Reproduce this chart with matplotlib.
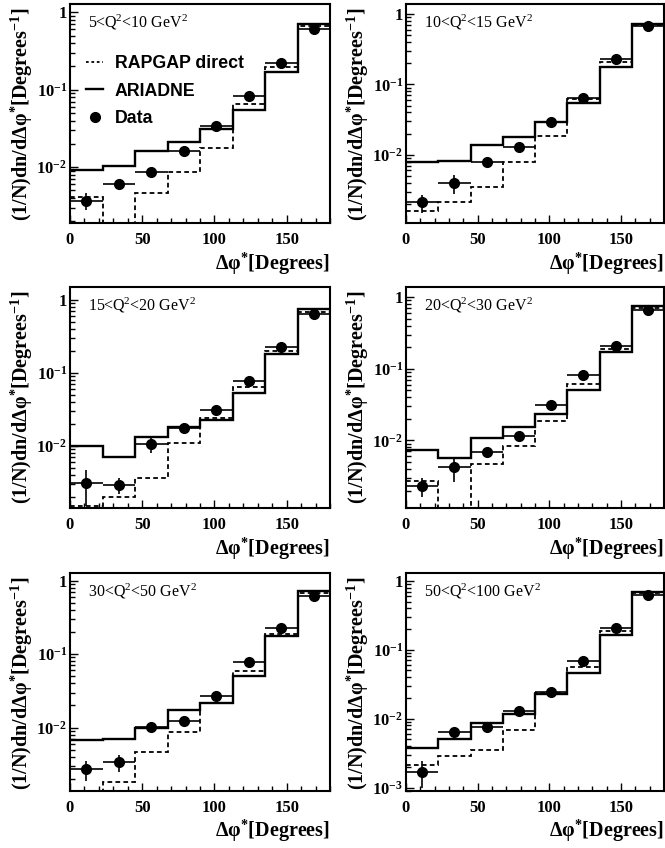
import numpy as np
import matplotlib
matplotlib.use("Agg")
import matplotlib.pyplot as plt
from matplotlib.ticker import FixedLocator, FuncFormatter, LogLocator, NullFormatter, MultipleLocator
from matplotlib.lines import Line2D

plt.rcParams["mathtext.fontset"] = "custom"
plt.rcParams["mathtext.rm"] = "Liberation Serif:bold"
plt.rcParams["mathtext.bf"] = "Liberation Serif:bold"
plt.rcParams["mathtext.it"] = "Liberation Serif:bold:italic"
plt.rcParams["font.family"] = ["Liberation Serif", "DejaVu Serif"]

# Delta phi* binning (degrees)
bin_edges = [0, 22.5, 45, 67.5, 90, 112.5, 135, 157.5, 180]

q2_labels = [r"5<Q$\mathregular{^2}$<10 GeV$\mathregular{^2}$",
             r"10<Q$\mathregular{^2}$<15 GeV$\mathregular{^2}$",
             r"15<Q$\mathregular{^2}$<20 GeV$\mathregular{^2}$",
             r"20<Q$\mathregular{^2}$<30 GeV$\mathregular{^2}$",
             r"30<Q$\mathregular{^2}$<50 GeV$\mathregular{^2}$",
             r"50<Q$\mathregular{^2}$<100 GeV$\mathregular{^2}$"]

# ARIADNE predictions
ariadne_q2_5_10 = [0.0092, 0.0103, 0.0162, 0.0211, 0.0314, 0.0542, 0.170, 0.70]
ariadne_q2_10_15 = [0.0079, 0.0081, 0.0136, 0.0179, 0.0295, 0.0545, 0.176, 0.72]
ariadne_q2_15_20 = [0.0100, 0.0071, 0.0133, 0.0182, 0.0225, 0.0535, 0.181, 0.74]
ariadne_q2_20_30 = [0.0073, 0.0056, 0.0109, 0.0156, 0.0232, 0.0506, 0.172, 0.74]
ariadne_q2_30_50 = [0.0068, 0.0070, 0.0098, 0.0171, 0.0215, 0.0496, 0.174, 0.72]
ariadne_q2_50_100 = [0.0037, 0.0051, 0.0085, 0.0116, 0.0226, 0.0453, 0.161, 0.70]

# RAPGAP direct predictions (1e-4 = below the plotted range)
rapgap_q2_5_10 = [0.0041, 1e-4, 0.0046, 0.0086, 0.0176, 0.0650, 0.198, 0.66]
rapgap_q2_10_15 = [0.0016, 0.0021, 0.0035, 0.0080, 0.0182, 0.061, 0.209, 0.70]
rapgap_q2_15_20 = [0.0015, 0.0020, 0.0036, 0.0108, 0.0237, 0.0646, 0.201, 0.68]
rapgap_q2_20_30 = [0.0027, 1e-4, 0.0047, 0.0083, 0.0187, 0.0615, 0.191, 0.70]
rapgap_q2_30_50 = [1e-4, 0.0018, 0.0047, 0.0088, 0.0219, 0.058, 0.189, 0.68]
rapgap_q2_50_100 = [0.0021, 0.0029, 0.0035, 0.0068, 0.0239, 0.0567, 0.186, 0.67]

# Measured data and errors
data_q2_5_10 = [0.0037, 0.0060, 0.0087, 0.0161, 0.034, 0.083, 0.223, 0.60]
data_q2_10_15 = [0.0021, 0.0040, 0.0078, 0.0127, 0.0289, 0.064, 0.226, 0.67]
data_q2_15_20 = [0.0031, 0.0029, 0.0105, 0.0173, 0.0309, 0.078, 0.229, 0.64]
data_q2_20_30 = [0.0023, 0.0042, 0.0069, 0.0115, 0.0315, 0.082, 0.206, 0.65]
data_q2_30_50 = [0.0027, 0.0034, 0.0101, 0.0123, 0.0265, 0.079, 0.226, 0.62]
data_q2_50_100 = [0.0017, 0.0064, 0.0076, 0.0127, 0.0245, 0.068, 0.206, 0.63]

err_q2_5_10 = [0.0009, 0.0006, 0.0006, 0.0008, 0.0012, 0.003, 0.006, 0.015]
err_q2_10_15 = [0.0006, 0.0012, 0.0007, 0.0008, 0.0012, 0.003, 0.006, 0.015]
err_q2_15_20 = [0.0016, 0.0007, 0.0025, 0.0012, 0.0015, 0.003, 0.006, 0.015]
err_q2_20_30 = [0.0007, 0.0016, 0.0008, 0.0008, 0.0012, 0.003, 0.006, 0.015]
err_q2_30_50 = [0.0008, 0.0009, 0.0008, 0.0015, 0.0012, 0.003, 0.006, 0.015]
err_q2_50_100 = [0.0007, 0.0010, 0.0008, 0.0008, 0.0012, 0.003, 0.006, 0.015]

ariadne_all = [ariadne_q2_5_10, ariadne_q2_10_15, ariadne_q2_15_20,
               ariadne_q2_20_30, ariadne_q2_30_50, ariadne_q2_50_100]
rapgap_all = [rapgap_q2_5_10, rapgap_q2_10_15, rapgap_q2_15_20,
              rapgap_q2_20_30, rapgap_q2_30_50, rapgap_q2_50_100]
data_all = [data_q2_5_10, data_q2_10_15, data_q2_15_20,
            data_q2_20_30, data_q2_30_50, data_q2_50_100]
err_all = [err_q2_5_10, err_q2_10_15, err_q2_15_20,
           err_q2_20_30, err_q2_30_50, err_q2_50_100]

y_ranges = [(0.0019, 1.28), (0.00107, 1.39), (0.0014, 1.5),
            (0.00114, 1.38), (0.00137, 1.27), (0.00089, 1.3)]

W, H = 665, 848
fig = plt.figure(figsize=(W / 100, H / 100), dpi=100)

col_left = [70, 406]
col_width = [260, 258]
row_top = [4, 287, 573]
row_height = [219, 221, 218]

dash_style = (0, (2.6, 1.8))
label_fs = 14.5
tick_fs = 12


def ytick_fmt(v, pos):
    e = int(round(np.log10(v)))
    if e == 0:
        return r"$1$"
    return r"$10^{%d}$" % e


edges = np.array(bin_edges)
centers = 0.5 * (edges[:-1] + edges[1:])
half_w = 0.5 * np.diff(edges)

for i in range(6):
    r, c = divmod(i, 2)
    x0 = col_left[c] / W
    w = col_width[c] / W
    y0 = 1 - (row_top[r] + row_height[r]) / H
    h = row_height[r] / H
    ax = fig.add_axes([x0, y0, w, h])
    ax.set_yscale("log")

    ax.stairs(rapgap_all[i], edges, baseline=None, color="black", lw=1.3,
              linestyle=dash_style)
    ax.stairs(ariadne_all[i], edges, baseline=None, color="black", lw=1.7)
    ax.errorbar(centers, data_all[i], xerr=half_w, yerr=err_all[i], fmt="o",
                color="black", ms=7, elinewidth=1.2, capsize=0)

    ax.set_xlim(0, 180)
    ax.set_ylim(*y_ranges[i])

    ax.xaxis.set_major_locator(FixedLocator([0, 50, 100, 150]))
    ax.xaxis.set_minor_locator(MultipleLocator(10))
    ax.yaxis.set_major_locator(FixedLocator([1e-3, 1e-2, 1e-1, 1.0]))
    ax.yaxis.set_major_formatter(FuncFormatter(ytick_fmt))
    ax.yaxis.set_minor_locator(LogLocator(base=10, subs=np.arange(2, 10)))
    ax.yaxis.set_minor_formatter(NullFormatter())
    ax.tick_params(which="both", direction="in", top=False, right=False,
                   width=1.0)
    ax.tick_params(which="major", length=6, labelsize=tick_fs)
    ax.tick_params(axis="x", which="major", pad=6.5)
    ax.tick_params(axis="y", which="major", pad=2)
    ax.tick_params(which="minor", length=3.5)
    for lab in ax.get_xticklabels():
        lab.set_fontweight("bold")
    for sp in ax.spines.values():
        sp.set_linewidth(1.5)

    ax.set_xlabel("Δφ$^{*}$[Degrees]", fontsize=label_fs, fontweight="bold",
                  loc="right")
    ax.xaxis.set_label_coords(1.0, -0.125)
    ax.set_ylabel("(1/N)dn/dΔφ$^{*}$[Degrees$^{-1}$]", fontsize=label_fs,
                  fontweight="bold", loc="top")
    ax.yaxis.set_label_coords(-0.135, 0.985)

    ax.text(0.07, 0.915, q2_labels[i], transform=ax.transAxes, fontsize=11.5,
            ha="left", va="center")

    if i == 0:
        handles = [
            Line2D([], [], color="black", lw=1.3, linestyle=(0, (1.5, 1.5))),
            Line2D([], [], color="black", lw=1.7),
            Line2D([], [], color="black", marker="o", ms=7, linestyle="none"),
        ]
        ax.legend(handles, ["RAPGAP direct", "ARIADNE", "Data"],
                  loc="upper left", bbox_to_anchor=(0.035, 0.80),
                  borderaxespad=0, frameon=False, handlelength=0.95,
                  handletextpad=0.67, labelspacing=0.6,
                  prop={"family": "Liberation Sans", "weight": "bold",
                        "size": 12.8})

fig.savefig("out.png", dpi=100)
